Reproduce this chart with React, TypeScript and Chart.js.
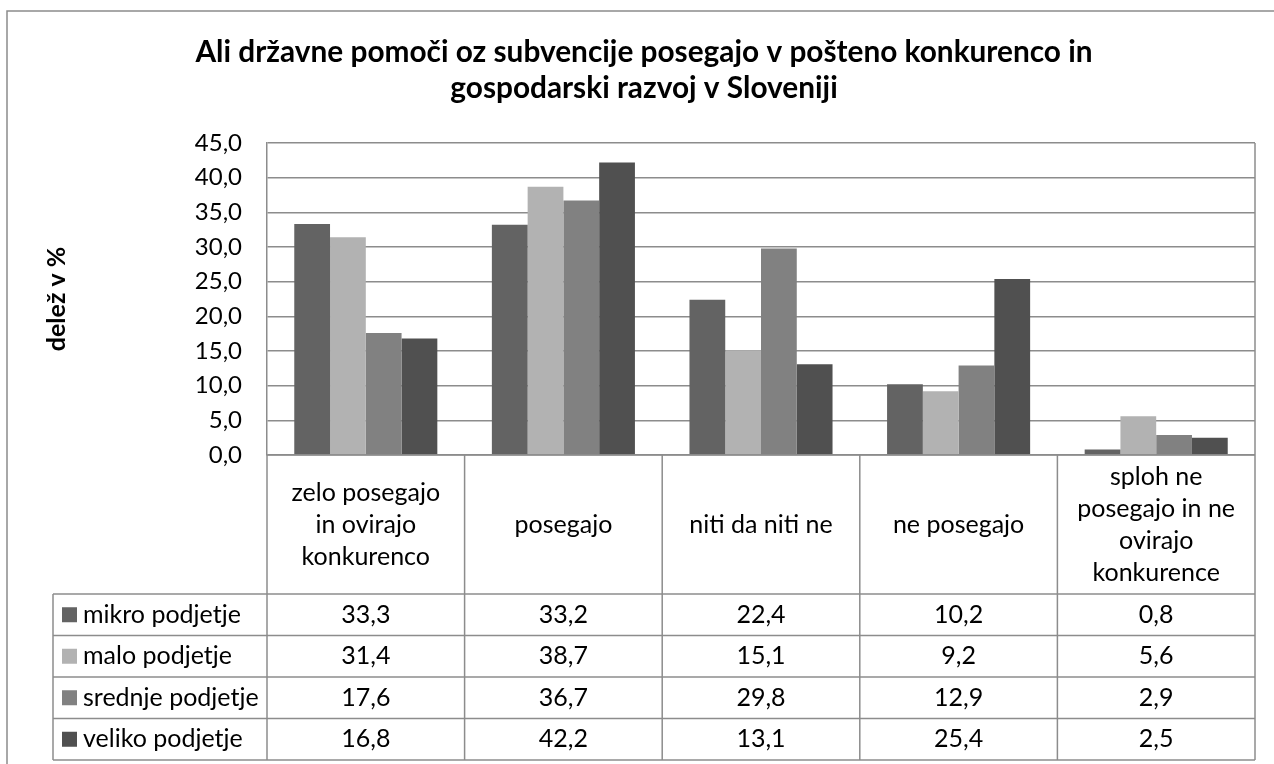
import React, { useEffect, useRef } from "react";
import { Chart, registerables } from "chart.js";

Chart.register(...registerables);

const TITLE_LINES = [
  "Ali državne pomoči oz subvencije posegajo v pošteno konkurenco in",
  "gospodarski razvoj v Sloveniji",
];
const Y_TITLE = "delež v %";
const CATEGORIES: string[][] = [
  ["zelo posegajo", "in ovirajo", "konkurenco"],
  ["posegajo"],
  ["niti da niti ne"],
  ["ne posegajo"],
  ["sploh ne", "posegajo in ne", "ovirajo", "konkurence"],
];
const SERIES_NAMES = ["mikro podjetje", "malo podjetje", "srednje podjetje", "veliko podjetje"];
const MIKRO = [33.3, 33.2, 22.4, 10.2, 0.8];
const MALO = [31.4, 38.7, 15.1, 9.2, 5.6];
const SREDNJE = [17.6, 36.7, 29.8, 12.9, 2.9];
const VELIKO = [16.8, 42.2, 13.1, 25.4, 2.5];
const SERIES = [MIKRO, MALO, SREDNJE, VELIKO];
const COLORS = ["#636363", "#b2b2b2", "#818181", "#505050"];
const Y_MIN = 0;
const Y_MAX = 45;
const Y_STEP = 5;

const FONT = "Lato";
const GRID = "#8c8c8c";
const fmt = (v: number) => v.toFixed(1).replace(".", ",");

const tablePlugin = {
  id: "dataTable",
  beforeDraw(chart: any) {
    const ctx = chart.ctx;
    ctx.save();
    ctx.fillStyle = "#ffffff";
    ctx.fillRect(0, 0, chart.width, chart.height);
    ctx.strokeStyle = GRID;
    ctx.lineWidth = 1.5;
    ctx.beginPath();
    ctx.moveTo(7, chart.height);
    ctx.lineTo(7, 11);
    ctx.lineTo(chart.width, 11);
    ctx.stroke();
    ctx.restore();
  },
  afterDraw(chart: any) {
    const ctx = chart.ctx;
    const ca = chart.chartArea;
    const x = chart.scales.x;
    const n = CATEGORIES.length;
    const cw = (ca.right - ca.left) / n;
    const headerBottom = ca.bottom + 139;
    const rowH = 41.5;
    const tableLeft = 53;
    const tableBottom = headerBottom + rowH * SERIES.length;

    ctx.save();
    ctx.strokeStyle = GRID;
    ctx.lineWidth = 1.5;
    const line = (x1: number, y1: number, x2: number, y2: number) => {
      ctx.beginPath();
      ctx.moveTo(x1, y1);
      ctx.lineTo(x2, y2);
      ctx.stroke();
    };
    line(ca.right, ca.top, ca.right, ca.bottom);
    line(ca.left, ca.bottom, ca.right, ca.bottom);
    for (let i = 0; i <= n; i++) {
      const xb = i < n ? x.getPixelForValue(i) - cw / 2 : x.getPixelForValue(n - 1) + cw / 2;
      line(xb, ca.bottom, xb, tableBottom);
    }
    for (let r = 0; r <= SERIES.length; r++) {
      const y = headerBottom + r * rowH;
      line(tableLeft, y, ca.right, y);
    }
    line(tableLeft, headerBottom, tableLeft, tableBottom);

    ctx.fillStyle = "#000";
    ctx.font = `25px ${FONT}`;
    ctx.textAlign = "center";
    ctx.textBaseline = "middle";
    const lh = 32;
    for (let i = 0; i < n; i++) {
      const cx = x.getPixelForValue(i);
      const lines = CATEGORIES[i];
      const cy0 = (ca.bottom + headerBottom) / 2 - ((lines.length - 1) * lh) / 2;
      lines.forEach((t, k) => ctx.fillText(t, cx, cy0 + k * lh));
    }
    for (let r = 0; r < SERIES.length; r++) {
      const cy = headerBottom + r * rowH + rowH / 2;
      ctx.fillStyle = COLORS[r];
      ctx.fillRect(62, cy - 7.5, 15, 15);
      ctx.fillStyle = "#000";
      ctx.textAlign = "left";
      ctx.fillText(SERIES_NAMES[r], 83, cy);
      ctx.textAlign = "center";
      for (let i = 0; i < n; i++) {
        ctx.fillText(fmt(SERIES[r][i]), x.getPixelForValue(i), cy);
      }
    }
    ctx.restore();
  },
};

export default function App() {
  const ref = useRef<HTMLCanvasElement>(null);
  useEffect(() => {
    if (!ref.current) return;
    Chart.defaults.color = "#000";
    const chart = new Chart(ref.current, {
      type: "bar",
      data: {
        labels: CATEGORIES.map((c) => c.join(" ")),
        datasets: SERIES.map((s, i) => ({
          label: SERIES_NAMES[i],
          data: s,
          backgroundColor: COLORS[i],
          borderWidth: 0,
          categoryPercentage: 0.724,
          barPercentage: 1,
        })),
      },
      options: {
        animation: false,
        responsive: false,
        layout: { padding: { top: 0, left: 33, right: 19, bottom: 309 } },
        plugins: {
          legend: { display: false },
          tooltip: { enabled: false },
          title: {
            display: true,
            text: TITLE_LINES,
            color: "#000",
            font: { family: FONT, size: 29.8, weight: "bold", lineHeight: 36 / 29.8 },
            padding: { top: 34, bottom: 37 },
          },
        },
        scales: {
          x: { type: "category", display: false },
          y: {
            min: Y_MIN,
            max: Y_MAX,
            afterFit: (scale: any) => {
              scale.width = 234;
            },
            ticks: {
              stepSize: Y_STEP,
              padding: 25,
              color: "#000",
              font: { family: FONT, size: 24 },
              callback: (v: any) => fmt(Number(v)),
            },
            grid: { color: GRID, lineWidth: 1.5, drawTicks: false },
            border: { display: true, color: GRID, width: 1.5 },
            title: {
              display: true,
              text: Y_TITLE,
              color: "#000",
              font: { family: FONT, size: 25, weight: "bold", lineHeight: 1.2 },
              padding: { top: 9, bottom: 0 },
            },
          },
        },
      },
      plugins: [tablePlugin],
    });
    return () => chart.destroy();
  }, []);
  return (
    <div style={{ position: "fixed", left: 0, top: 0, width: 1274, height: 764 }}>
      <canvas ref={ref} width={1274} height={764} />
    </div>
  );
}
